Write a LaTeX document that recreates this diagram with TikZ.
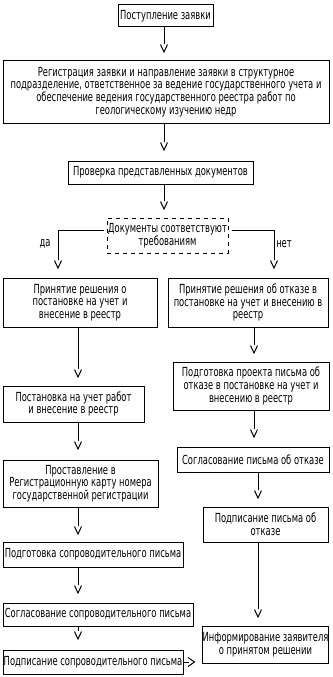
\documentclass[tikz,border=0pt]{standalone}
\usepackage{fontspec}
\newfontfamily\pixfont{DejaVu Sans}[FakeStretch=0.67]
\begin{document}
\begin{tikzpicture}[x=1pt,y=-1pt,
  every node/.style={font=\pixfont\fontsize{12.5}{12.6}\selectfont, inner sep=0pt, align=center},
  box/.style={draw, line width=1pt, rectangle},
  dbox/.style={draw, line width=1pt, rectangle, dash pattern=on 4pt off 4pt},
  conn/.style={line width=1pt},
  pics/vtip/.style={code={\draw[line width=1pt] (-3.5,0.5) -- (0,8) -- (3.5,0.5);}},
  pics/rtip/.style={code={\draw[line width=1pt] (-0.5,-4.5) -- (6,0) -- (-0.5,4.5);}}
]
\fill[white] (0,0) rectangle (332,677);
\useasboundingbox (0,0) rectangle (332,677);

% boxes
\node[box, minimum width=95pt, minimum height=22pt] (b1) at (165.5,16) {Поступление заявки};
\node[box, minimum width=326pt, minimum height=62pt] (b2) at (166,92) {Регистрация заявки и направление заявки в структурное\\подразделение, ответственное за ведение государственного учета и\\обеспечение ведения государственного реестра работ по\\геологическому изучению недр};
\node[box, minimum width=185pt, minimum height=23pt] (b3) at (160.5,172.5) {Проверка представленных документов};
\node[dbox, minimum width=121pt, minimum height=35pt] (d) at (167.5,235.5) {Документы соответствуют\\требованиям};
\node[box, minimum width=154pt, minimum height=49pt] (b4) at (80,302.5) {Принятие решения о\\постановке на учет и\\внесение в реестр};
\node[box, minimum width=160pt, minimum height=49pt] (b5) at (248,302.5) {Принятие решения об отказе в\\постановке на учет и внесению в\\реестр};
\node[box, minimum width=141pt, minimum height=36pt] (b6) at (73.5,404) {Постановка на учет работ\\и внесение в реестр};
\node[box, minimum width=155pt, minimum height=47pt] (b7) at (80.5,483.5) {Проставление в\\Регистрационную карту номера\\государственной регистрации};
\node[box, minimum width=180pt, minimum height=25pt] (b8) at (93,554.5) {Подготовка сопроводительного письма};
\node[box, minimum width=190pt, minimum height=23pt] (b9) at (98,614.5) {Согласование сопроводительного письма};
\node[box, minimum width=180pt, minimum height=24pt] (b10) at (93,662) {Подписание сопроводительного письма};
\node[box, minimum width=156pt, minimum height=48pt] (r1) at (251,386) {Подготовка проекта письма об\\отказе в постановке на учет и\\внесению в реестр};
\node[box, minimum width=152pt, minimum height=25pt] (r2) at (253,459.5) {Согласование письма об отказе};
\node[box, minimum width=125pt, minimum height=35pt] (r3) at (265.5,524.5) {Подписание письма об\\отказе};
\node[box, minimum width=125pt, minimum height=37pt] (r4) at (265.5,644.5) {Информирование заявителя\\о принятом решении};

\node (yes) at (45,244) {да};
\node (no) at (284,244) {нет};

% connector ends
\coordinate (e1) at (164,44);
\coordinate (e2) at (164,142);
\coordinate (e3) at (164,201);
\coordinate (dl) at (58,260);
\coordinate (dr) at (274,260);
\coordinate (e4) at (78,369);
\coordinate (e5) at (78,441);
\coordinate (e6) at (78,526);
\coordinate (e7) at (78,585);
\coordinate (e8) at (78,631);
\coordinate (f1) at (254,345);
\coordinate (f2) at (254,429);
\coordinate (f3) at (258,490);
\coordinate (f4) at (258,609);
\coordinate (g1) at (188.5,662);

% connectors
\draw[conn] (b1.south -| e1) -- (e1); \pic at (e1) {vtip};
\draw[conn] (b2.south -| e2) -- (e2); \pic at (e2) {vtip};
\draw[conn] (b3.south -| e3) -- (e3); \pic at (e3) {vtip};
\draw[conn] ([xshift=-3pt,yshift=5.5pt]d.west) -| (dl); \pic at (dl) {vtip};
\draw[conn] ([xshift=3pt,yshift=5.5pt]d.east) -| (dr); \pic at (dr) {vtip};
\draw[conn] (b4.south -| e4) -- (e4); \pic at (e4) {vtip};
\draw[conn] (b6.south -| e5) -- (e5); \pic at (e5) {vtip};
\draw[conn] (b7.south -| e6) -- (e6); \pic at (e6) {vtip};
\draw[conn] (b8.south -| e7) -- (e7); \pic at (e7) {vtip};
\draw[conn] (b9.south -| e8) -- (e8); \pic at (e8) {vtip};
\draw[conn] (b5.south -| f1) -- (f1); \pic at (f1) {vtip};
\draw[conn] (r1.south -| f2) -- (f2); \pic at (f2) {vtip};
\draw[conn] (r2.south -| f3) -- (f3); \pic at (f3) {vtip};
\draw[conn] (r3.south -| f4) -- (f4); \pic at (f4) {vtip};
\draw[conn] (b10.east) -- (g1); \pic at (g1) {rtip};
\end{tikzpicture}
\end{document}
